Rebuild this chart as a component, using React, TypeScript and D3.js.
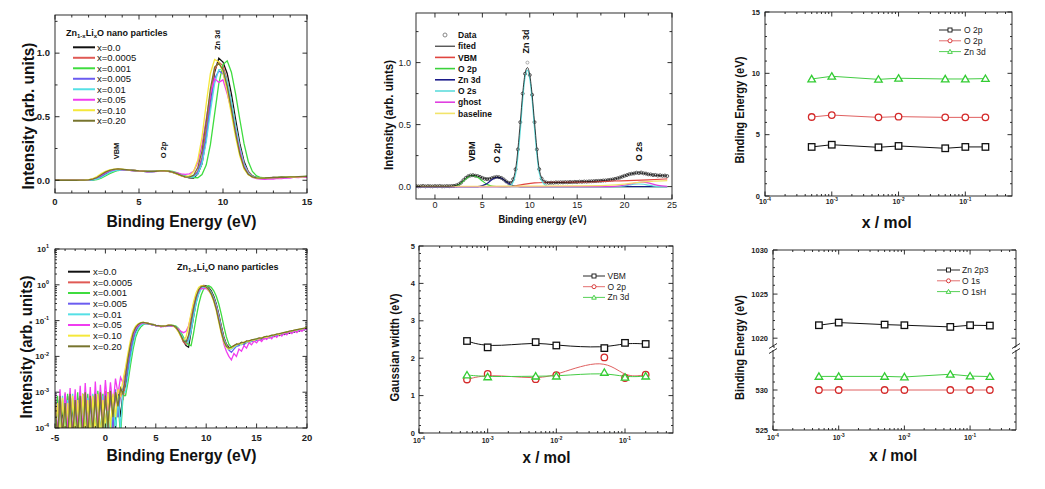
import React from "react";
import * as d3 from "d3";

const FONT = "'Liberation Sans', Arial, Helvetica, sans-serif";

// ---------- Panels (a) & (d): valence-band spectra of Zn1-xLixO ----------
const SPEC_LABELS = ["x=0.0", "x=0.0005", "x=0.001", "x=0.005", "x=0.01", "x=0.05", "x=0.10", "x=0.20"];
const SPEC_COLORS = ["#111111", "#e05a55", "#3fdc3f", "#6b5cf0", "#55e0e6", "#f03cf0", "#f5e83a", "#77742e"];
const LOW_START = -5; // eV (noise floor part), step 0.25
const MAIN_START = 2; // eV, step 0.25
const E_STEP = 0.25;

const lowX0 = [
  0.00005, 0.0006, 0.00005, 0.0004,
  0.00004, 0.0008, 0.00006, 0.0005,
  0.00003, 0.0007, 0.00005, 0.0009,
  0.00004, 0.0005, 0.00006, 0.0008,
  0.00004, 0.0009, 0.00005, 0.0006,
  0.00008, 0.001, 0.00006, 0.0008,
  0.0001, 0.0009, 0.0002, 0.001,
];
const lowX0005 = [
  0.0005, 0.00004, 0.0009, 0.00006,
  0.0006, 0.00005, 0.001, 0.00003,
  0.0005, 0.00007, 0.0008, 0.00005,
  0.0007, 0.00008, 0.0009, 0.00004,
  0.001, 0.00006, 0.0008, 0.00005,
  0.0011, 0.0001, 0.0009, 0.00008,
  0.001, 0.0002, 0.0012, 0.0006,
];
const lowX001 = [
  0.00004, 0.0008, 0.00005, 0.0006,
  0.00006, 0.0009, 0.00003, 0.0007,
  0.00005, 0.001, 0.00004, 0.0006,
  0.00007, 0.0009, 0.00005, 0.0008,
  0.00006, 0.0011, 0.00004, 0.0009,
  0.00008, 0.001, 0.00005, 0.0007,
  0.0001, 0.0006, 0.00006, 0.0008,
];
const lowX005 = [
  0.001, 0.00005, 0.0006, 0.00004,
  0.0009, 0.00006, 0.0005, 0.00005,
  0.0008, 0.00003, 0.001, 0.00006,
  0.0009, 0.00004, 0.0006, 0.00007,
  0.001, 0.00005, 0.0008, 0.00006,
  0.0009, 0.00008, 0.0011, 0.0001,
  0.0012, 0.0002, 0.0009, 0.0013,
];
const lowX01 = [
  0.00005, 0.0005, 0.00004, 0.0008,
  0.00006, 0.0006, 0.00005, 0.0009,
  0.00004, 0.0005, 0.00006, 0.0008,
  0.00005, 0.0007, 0.00004, 0.0009,
  0.00006, 0.0006, 0.00005, 0.0008,
  0.00007, 0.0009, 0.00006, 0.0006,
  0.00008, 0.0008, 0.0001, 0.001,
];
const lowX05 = [
  0.0009, 0.00006, 0.0012, 0.00005,
  0.001, 0.0001, 0.0013, 0.00006,
  0.0012, 0.0001, 0.0015, 0.00008,
  0.0018, 0.0001, 0.0014, 0.00007,
  0.002, 0.0001, 0.0016, 0.0002,
  0.0022, 0.0003, 0.0019, 0.0004,
  0.0024, 0.0009, 0.0026, 0.0018,
];
const lowX10 = [
  0.00004, 0.0005, 0.00005, 0.0007,
  0.00004, 0.0005, 0.00006, 0.0008,
  0.00005, 0.0006, 0.00004, 0.0009,
  0.00006, 0.0006, 0.00005, 0.0008,
  0.00006, 0.0009, 0.00005, 0.0006,
  0.0001, 0.001, 0.0001, 0.0009,
  0.0002, 0.0012, 0.0008, 0.0022,
];
const lowX20 = [
  0.0006, 0.00005, 0.0008, 0.00006,
  0.0005, 0.00004, 0.0009, 0.00005,
  0.0006, 0.00006, 0.0008, 0.00004,
  0.001, 0.00005, 0.0008, 0.00007,
  0.0009, 0.00006, 0.001, 0.00008,
  0.0008, 0.0001, 0.0011, 0.0002,
  0.001, 0.0004, 0.0013, 0.0009,
];

// rows: 2, 3, 4, ... 19 eV (x.00, x.25, x.50, x.75), last value at 20 eV
const mainX0 = [
  0.0015, 0.004, 0.011, 0.028,
  0.05, 0.068, 0.08, 0.086,
  0.085, 0.082, 0.079, 0.076,
  0.073, 0.071, 0.069, 0.069,
  0.071, 0.073, 0.074, 0.071,
  0.064, 0.052, 0.038, 0.026,
  0.02, 0.018, 0.05, 0.13,
  0.33, 0.6, 0.85, 0.96,
  0.93, 0.84, 0.68, 0.48,
  0.29, 0.15, 0.07, 0.035,
  0.022, 0.018, 0.017, 0.019,
  0.022, 0.021, 0.024, 0.023,
  0.026, 0.025, 0.028, 0.027,
  0.03, 0.029, 0.033, 0.031,
  0.035, 0.033, 0.037, 0.036,
  0.04, 0.038, 0.043, 0.041,
  0.046, 0.044, 0.05, 0.048,
  0.053, 0.051, 0.057, 0.055,
  0.062,
];
const mainX0005 = [
  0.002, 0.006, 0.016, 0.035,
  0.056, 0.072, 0.082, 0.087,
  0.084, 0.083, 0.078, 0.077,
  0.072, 0.072, 0.068, 0.07,
  0.07, 0.074, 0.073, 0.072,
  0.062, 0.05, 0.036, 0.025,
  0.022, 0.03, 0.07, 0.18,
  0.4, 0.66, 0.87, 0.93,
  0.9, 0.79, 0.62, 0.43,
  0.26, 0.13, 0.065, 0.033,
  0.021, 0.017, 0.018, 0.02,
  0.021, 0.023, 0.022, 0.025,
  0.024, 0.027, 0.026, 0.029,
  0.028, 0.032, 0.03, 0.034,
  0.033, 0.036, 0.035, 0.039,
  0.038, 0.042, 0.04, 0.045,
  0.043, 0.048, 0.047, 0.052,
  0.05, 0.055, 0.054, 0.059,
  0.06,
];
const mainX001 = [
  0.0008, 0.002, 0.006, 0.016,
  0.034, 0.052, 0.066, 0.077,
  0.082, 0.083, 0.08, 0.078,
  0.074, 0.072, 0.07, 0.069,
  0.07, 0.072, 0.074, 0.074,
  0.07, 0.06, 0.047, 0.034,
  0.025, 0.021, 0.02, 0.045,
  0.12, 0.28, 0.52, 0.76,
  0.91, 0.94, 0.85, 0.68,
  0.48, 0.29, 0.15, 0.07,
  0.035, 0.022, 0.018, 0.019,
  0.021, 0.022, 0.024, 0.023,
  0.026, 0.026, 0.028, 0.029,
  0.031, 0.03, 0.033, 0.034,
  0.036, 0.035, 0.038, 0.039,
  0.041, 0.04, 0.044, 0.045,
  0.048, 0.047, 0.051, 0.052,
  0.055, 0.054, 0.058, 0.06,
  0.064,
];
const mainX005 = [
  0.002, 0.005, 0.014, 0.032,
  0.054, 0.07, 0.08, 0.085,
  0.083, 0.081, 0.079, 0.075,
  0.073, 0.07, 0.069, 0.068,
  0.07, 0.072, 0.073, 0.07,
  0.063, 0.052, 0.04, 0.03,
  0.025, 0.03, 0.065, 0.16,
  0.35, 0.6, 0.8, 0.86,
  0.84, 0.74, 0.58, 0.4,
  0.24, 0.12, 0.055, 0.03,
  0.019, 0.015, 0.013, 0.016,
  0.019, 0.02, 0.023, 0.021,
  0.025, 0.024, 0.027, 0.026,
  0.029, 0.03, 0.031, 0.033,
  0.032, 0.036, 0.035, 0.038,
  0.039, 0.041, 0.043, 0.042,
  0.047, 0.046, 0.05, 0.049,
  0.054, 0.053, 0.057, 0.056,
  0.061,
];
const mainX01 = [
  0.001, 0.003, 0.009, 0.022,
  0.042, 0.06, 0.073, 0.081,
  0.083, 0.081, 0.079, 0.076,
  0.073, 0.071, 0.069, 0.069,
  0.07, 0.072, 0.073, 0.072,
  0.066, 0.055, 0.042, 0.03,
  0.024, 0.026, 0.05, 0.13,
  0.3, 0.54, 0.76, 0.87,
  0.87, 0.78, 0.62, 0.43,
  0.26, 0.13, 0.06, 0.03,
  0.02, 0.016, 0.016, 0.018,
  0.02, 0.022, 0.021, 0.024,
  0.025, 0.025, 0.027, 0.028,
  0.03, 0.031, 0.032, 0.033,
  0.035, 0.034, 0.037, 0.038,
  0.04, 0.041, 0.043, 0.044,
  0.046, 0.048, 0.049, 0.051,
  0.053, 0.055, 0.056, 0.058,
  0.06,
];
const mainX05 = [
  0.004, 0.01, 0.022, 0.04,
  0.06, 0.074, 0.081, 0.088,
  0.083, 0.084, 0.077, 0.078,
  0.071, 0.073, 0.066, 0.07,
  0.068, 0.074, 0.07, 0.071,
  0.064, 0.058, 0.05, 0.046,
  0.05, 0.07, 0.14, 0.28,
  0.48, 0.68, 0.8, 0.77,
  0.79, 0.68, 0.55, 0.38,
  0.23, 0.11, 0.05, 0.022,
  0.014, 0.01, 0.008, 0.012,
  0.01, 0.016, 0.014, 0.02,
  0.017, 0.024, 0.021, 0.027,
  0.024, 0.03, 0.026, 0.033,
  0.03, 0.036, 0.031, 0.039,
  0.034, 0.042, 0.037, 0.045,
  0.04, 0.049, 0.043, 0.052,
  0.046, 0.056, 0.05, 0.06,
  0.055,
];
const mainX10 = [
  0.005, 0.013, 0.03, 0.052,
  0.07, 0.082, 0.088, 0.09,
  0.087, 0.084, 0.08, 0.077,
  0.074, 0.072, 0.07, 0.07,
  0.072, 0.075, 0.075, 0.071,
  0.062, 0.048, 0.035, 0.028,
  0.035, 0.07, 0.16, 0.34,
  0.6, 0.84, 0.95, 0.93,
  0.85, 0.7, 0.52, 0.34,
  0.19, 0.09, 0.043, 0.025,
  0.018, 0.016, 0.017, 0.019,
  0.021, 0.023, 0.022, 0.025,
  0.026, 0.026, 0.029, 0.028,
  0.031, 0.031, 0.033, 0.035,
  0.034, 0.037, 0.038, 0.039,
  0.042, 0.041, 0.045, 0.046,
  0.048, 0.05, 0.051, 0.054,
  0.055, 0.058, 0.059, 0.062,
  0.066,
];
const mainX20 = [
  0.003, 0.009, 0.022, 0.044,
  0.064, 0.078, 0.086, 0.089,
  0.086, 0.083, 0.08, 0.077,
  0.074, 0.072, 0.07, 0.07,
  0.071, 0.074, 0.074, 0.072,
  0.065, 0.052, 0.038, 0.027,
  0.025, 0.04, 0.1, 0.23,
  0.46, 0.72, 0.89, 0.92,
  0.87, 0.74, 0.56, 0.37,
  0.21, 0.1, 0.048, 0.027,
  0.019, 0.017, 0.018, 0.02,
  0.022, 0.022, 0.025, 0.024,
  0.027, 0.027, 0.029, 0.03,
  0.031, 0.033, 0.032, 0.035,
  0.036, 0.037, 0.039, 0.04,
  0.042, 0.043, 0.045, 0.047,
  0.048, 0.051, 0.052, 0.054,
  0.056, 0.058, 0.06, 0.062,
  0.065,
];
const SPEC_LOW = [lowX0, lowX0005, lowX001, lowX005, lowX01, lowX05, lowX10, lowX20];
const SPEC_MAIN = [mainX0, mainX0005, mainX001, mainX005, mainX01, mainX05, mainX10, mainX20];

// ---------- Panel (b): fit of one spectrum ----------
const FIT_DATA_START = -2; // step 0.25
const fitData = [
  0.004, 0.002, 0.003, 0.005,
  0.002, 0.004, 0.003, 0.002,
  0.004, 0.003, 0.005, 0.002,
  0.003, 0.004, 0.003, 0.005,
  0.006, 0.01, 0.018, 0.032,
  0.052, 0.07, 0.083, 0.09,
  0.092, 0.088, 0.085, 0.078,
  0.07, 0.063, 0.06, 0.062,
  0.068, 0.074, 0.078, 0.076,
  0.07, 0.058, 0.042, 0.03,
  0.03, 0.06, 0.14, 0.3,
  0.52, 0.75, 0.91, 1.0,
  0.9, 0.74, 0.52, 0.3,
  0.14, 0.065, 0.04, 0.033,
  0.03, 0.032, 0.031, 0.034,
  0.033, 0.035, 0.034, 0.036,
  0.035, 0.037, 0.036, 0.038,
  0.037, 0.04, 0.039, 0.041,
  0.04, 0.042, 0.043, 0.044,
  0.045, 0.046, 0.047, 0.049,
  0.05, 0.052, 0.055, 0.058,
  0.062, 0.067, 0.073, 0.08,
  0.087, 0.093, 0.1, 0.104,
  0.106, 0.112, 0.109, 0.113,
  0.107, 0.105, 0.099, 0.098,
  0.093, 0.094, 0.089, 0.091,
  0.087, 0.089, 0.085,
];
const fitTotal: [number, number][] = [
  [-2, 0.003], [1.5, 0.003], [2, 0.006], [2.5, 0.018], [3, 0.052], [3.5, 0.083], [4, 0.091], [4.5, 0.084],
  [5, 0.07], [5.5, 0.061], [6, 0.068], [6.5, 0.077], [7, 0.069], [7.5, 0.043], [8, 0.03], [8.5, 0.14],
  [9, 0.52], [9.25, 0.75], [9.5, 0.91], [9.75, 0.96], [10, 0.9], [10.25, 0.74], [10.5, 0.52], [11, 0.14],
  [11.5, 0.04], [12, 0.031], [13, 0.033], [14, 0.035], [15, 0.038], [16, 0.04], [17, 0.045], [18, 0.05],
  [18.5, 0.055], [19, 0.062], [19.5, 0.073], [20, 0.087], [20.5, 0.1], [21, 0.107], [21.5, 0.111],
  [22, 0.107], [22.5, 0.1], [23, 0.093], [23.5, 0.09], [24, 0.088], [24.5, 0.086],
];
const compVBM: [number, number][] = [
  [-2, 0], [7.5, 0], [8.5, 0.006], [9.5, 0.02], [10.5, 0.03], [11.5, 0.033], [13, 0.034], [15, 0.036],
  [17, 0.04], [19, 0.045], [21, 0.05], [22.5, 0.055], [24.5, 0.062],
];
const compO2p: [number, number][] = [
  [-2, 0], [1.5, 0], [2, 0.003], [2.5, 0.015], [3, 0.045], [3.5, 0.078], [3.9, 0.09], [4.5, 0.075],
  [5, 0.045], [5.5, 0.018], [6, 0.005], [6.5, 0.001], [7, 0], [24.5, 0],
];
const compZn3d: [number, number][] = [
  [-2, 0], [4.5, 0], [5, 0.008], [5.5, 0.025], [6, 0.055], [6.5, 0.075], [7, 0.068], [7.5, 0.04],
  [8, 0.014], [8.5, 0.003], [9, 0], [24.5, 0],
];
const compO2s: [number, number][] = [
  [-2, 0], [7.5, 0], [8, 0.01], [8.5, 0.1], [9, 0.45], [9.25, 0.7], [9.5, 0.88], [9.75, 0.94], [10, 0.87],
  [10.25, 0.7], [10.5, 0.47], [10.75, 0.26], [11, 0.11], [11.5, 0.02], [12, 0], [19, 0], [20, 0.006],
  [20.5, 0.013], [21, 0.019], [21.5, 0.021], [22, 0.019], [22.5, 0.012], [23, 0.005], [23.5, 0], [24.5, 0],
];
const compGhost: [number, number][] = [
  [-2, 0], [18.5, 0], [19.5, 0.006], [20.5, 0.02], [21.5, 0.034], [22, 0.036], [22.5, 0.03],
  [23.5, 0.01], [24.5, 0.002],
];
const compBaseline: [number, number][] = [
  [-2, 0.003], [5, 0.003], [10, 0.004], [15, 0.006], [18, 0.01], [20, 0.02], [21, 0.03], [22, 0.038],
  [23, 0.043], [24.5, 0.048],
];
const FIT_LABELS = ["Data", "fited", "VBM", "O  2p", "Zn 3d", "O  2s", "ghost", "baseline"];
const FIT_COLORS = ["#8a8a8a", "#111111", "#e0453f", "#3cd23c", "#1c1c8a", "#5fdcdc", "#e040e0", "#f2e46a"];

// ---------- Panels (c), (e), (f): vs. Li content ----------
const molX = [0.0005, 0.001, 0.005, 0.01, 0.05, 0.1, 0.2];
const peakO2pA = [4.0, 4.18, 3.97, 4.08, 3.89, 4.0, 4.0];
const peakO2pB = [6.44, 6.6, 6.41, 6.47, 6.41, 6.41, 6.41];
const peakZn3d = [9.54, 9.76, 9.51, 9.6, 9.54, 9.54, 9.57];
const widthVBM = [2.46, 2.29, 2.43, 2.34, 2.27, 2.41, 2.38];
const widthO2p = [1.43, 1.58, 1.44, 1.55, 2.02, 1.47, 1.56];
const widthZn3d = [1.55, 1.5, 1.52, 1.52, 1.62, 1.49, 1.52];
const coreZn2p3 = [1021.47, 1021.77, 1021.54, 1021.47, 1021.28, 1021.47, 1021.43];
const coreO1s = [530.0, 530.0, 530.0, 530.0, 530.0, 530.0, 530.0];
const coreO1sH = [531.7, 531.7, 531.7, 531.63, 531.97, 531.74, 531.68];

// ---------- helpers ----------
type Seg = [number, number, number, number];

function logTicks(lo: number, hi: number) {
  const major: number[] = [];
  const minor: number[] = [];
  for (let e = Math.floor(Math.log10(lo)); e <= Math.ceil(Math.log10(hi)); e++) {
    const b = Math.pow(10, e);
    if (b >= lo * 0.999 && b <= hi * 1.001) major.push(b);
    for (let k = 2; k < 10; k++) {
      const v = k * b;
      if (v > lo * 1.001 && v < hi * 0.999) minor.push(v);
    }
  }
  return { major, minor };
}

function stepTicks(lo: number, hi: number, step: number, skip: number[] = []) {
  const out: number[] = [];
  for (let v = Math.ceil(lo / step - 1e-9) * step; v <= hi + 1e-9; v += step) {
    const r = Math.round(v * 1000) / 1000;
    if (!skip.some((s) => Math.abs(s - r) < 1e-6)) out.push(r);
  }
  return out;
}

function Frame(props: {
  x: (v: number) => number; y: (v: number) => number;
  L: number; R: number; T: number; B: number;
  xMaj: number[]; xMin: number[]; yMaj: number[]; yMin: number[];
  maj?: number; min?: number; noRect?: boolean;
}) {
  const { x, y, L, R, T, B } = props;
  const M = props.maj ?? 4.5;
  const m = props.min ?? 2.5;
  const segs: Seg[] = [];
  props.xMaj.forEach((v) => { const X = x(v); segs.push([X, B, X, B - M], [X, T, X, T + M]); });
  props.xMin.forEach((v) => { const X = x(v); segs.push([X, B, X, B - m], [X, T, X, T + m]); });
  props.yMaj.forEach((v) => { const Y = y(v); segs.push([L, Y, L + M, Y], [R, Y, R - M, Y]); });
  props.yMin.forEach((v) => { const Y = y(v); segs.push([L, Y, L + m, Y], [R, Y, R - m, Y]); });
  return (
    <g stroke="#1a1a1a" strokeWidth={0.9} fill="none">
      {!props.noRect && <rect x={L} y={T} width={R - L} height={B - T} />}
      {segs.map((s, i) => <line key={i} x1={s[0]} y1={s[1]} x2={s[2]} y2={s[3]} />)}
    </g>
  );
}

function Pow(p: { x: number; y: number; e: number; fs: number; anchor: string; bold?: boolean }) {
  return (
    <text x={p.x} y={p.y} fontSize={p.fs} textAnchor={p.anchor as any} fontWeight={p.bold ? "bold" : "normal"} fill="#222">
      10<tspan dy={-p.fs * 0.45} fontSize={p.fs * 0.68}>{p.e}</tspan>
    </text>
  );
}

function VText(p: { bx: number; cy: number; fs: number; len?: number; children: React.ReactNode; bold?: boolean }) {
  return (
    <text transform={`translate(${p.bx},${p.cy}) rotate(-90)`} textAnchor="middle" fontSize={p.fs}
      fontWeight={p.bold === false ? "normal" : "bold"} fill="#111"
      textLength={p.len} lengthAdjust={p.len ? "spacingAndGlyphs" : undefined}>
      {p.children}
    </text>
  );
}

function HText(p: { cx: number; y: number; fs: number; len?: number; children: React.ReactNode }) {
  return (
    <text x={p.cx} y={p.y} textAnchor="middle" fontSize={p.fs} fontWeight="bold" fill="#111"
      textLength={p.len} lengthAdjust={p.len ? "spacingAndGlyphs" : undefined}>
      {p.children}
    </text>
  );
}

function Marker(p: { shape: string; x: number; y: number; s: number; color: string; sw?: number }) {
  const { x, y, s, color } = p;
  const sw = p.sw ?? 1.3;
  if (p.shape === "square")
    return <rect x={x - s / 2} y={y - s / 2} width={s} height={s} fill="#fff" stroke={color} strokeWidth={sw} />;
  if (p.shape === "circle")
    return <circle cx={x} cy={y} r={s / 2} fill="#fff" stroke={color} strokeWidth={sw} />;
  const h = s * 0.55;
  return (
    <path d={`M${x},${y - h} L${x + s * 0.58},${y + h * 0.8} L${x - s * 0.58},${y + h * 0.8} Z`}
      fill="#fff" stroke={color} strokeWidth={sw} />
  );
}

function Title(p: { x: number; y: number }) {
  return (
    <text x={p.x} y={p.y} fontSize={9} fontWeight="bold" fill="#111">
      Zn<tspan dy={2} fontSize={6}>1-x</tspan><tspan dy={-2}>Li</tspan><tspan dy={2} fontSize={6}>x</tspan>
      <tspan dy={-2}>O nano particles</tspan>
    </text>
  );
}

const spectra: [number, number][][] = SPEC_LOW.map((low, k) => [
  ...low.map((v, i) => [LOW_START + i * E_STEP, v] as [number, number]),
  ...SPEC_MAIN[k].map((v, i) => [MAIN_START + i * E_STEP, v] as [number, number]),
]);

// ---------- panels ----------
function PanelA() {
  const L = 55, R = 307, T = 15, B = 193;
  const x = d3.scaleLinear().domain([0, 15]).range([L, R]);
  const y = d3.scaleLinear().domain([-0.1, 1.3]).range([B, T]);
  const line = d3.line<[number, number]>().x((d) => x(d[0])).y((d) => y(d[1]));
  return (
    <g>
      <clipPath id="clipA"><rect x={L} y={T} width={R - L} height={B - T} /></clipPath>
      <g clipPath="url(#clipA)" fill="none">
        {spectra.map((s, k) => (
          <path key={k} d={line(s.filter((d) => d[0] >= -0.5)) || ""} stroke={SPEC_COLORS[k]} strokeWidth={1.3} />
        ))}
      </g>
      <Frame x={x} y={y} L={L} R={R} T={T} B={B} xMaj={[0, 5, 10, 15]} xMin={stepTicks(0, 15, 1, [0, 5, 10, 15])}
        yMaj={[0, 0.5, 1.0]} yMin={[0.25, 0.75, 1.25]} />
      {[0, 5, 10, 15].map((v) => (
        <text key={v} x={x(v)} y={205} fontSize={9.5} fontWeight="bold" textAnchor="middle" fill="#222">{v}</text>
      ))}
      {[0, 0.5, 1.0].map((v) => (
        <text key={v} x={50} y={y(v) + 3.3} fontSize={9.5} fontWeight="bold" textAnchor="end" fill="#222">{v.toFixed(1)}</text>
      ))}
      <Title x={66} y={36} />
      {SPEC_LABELS.map((lab, i) => {
        const yy = 47.3 + i * 10.49;
        return (
          <g key={lab}>
            <line x1={73} x2={95} y1={yy} y2={yy} stroke={SPEC_COLORS[i]} strokeWidth={2} />
            <text x={97} y={yy + 3.4} fontSize={9.5} fill="#111">{lab}</text>
          </g>
        );
      })}
      <VText bx={219.5} cy={40} fs={7.5}>Zn 3d</VText>
      <VText bx={119} cy={151} fs={7.5}>VBM</VText>
      <VText bx={165.5} cy={150} fs={7.5}>O 2p</VText>
      <HText cx={181.5} y={227} fs={17} len={150}>Binding Energy (eV)</HText>
      <VText bx={34} cy={116} fs={17} len={147}>Intensity (arb. units)</VText>
    </g>
  );
}

function PanelD() {
  const L = 55, R = 307, T = 249, B = 428;
  const x = d3.scaleLinear().domain([-5, 20]).range([L, R]);
  const y = d3.scaleLog().domain([1e-4, 10]).range([B, T]);
  const line = d3.line<[number, number]>().x((d) => x(d[0])).y((d) => y(Math.max(d[1], 1e-6)));
  const lt = logTicks(1e-4, 10);
  return (
    <g>
      <clipPath id="clipD"><rect x={L} y={T} width={R - L} height={B - T} /></clipPath>
      <g clipPath="url(#clipD)" fill="none">
        {spectra.map((s, k) => (
          <path key={k} d={line(s) || ""} stroke={SPEC_COLORS[k]} strokeWidth={1.3} />
        ))}
      </g>
      <Frame x={x} y={y} L={L} R={R} T={T} B={B} xMaj={[-5, 0, 5, 10, 15, 20]}
        xMin={stepTicks(-5, 20, 1, [-5, 0, 5, 10, 15, 20])} yMaj={lt.major} yMin={lt.minor} min={2} />
      {[-5, 0, 5, 10, 15, 20].map((v) => (
        <text key={v} x={x(v)} y={441} fontSize={9.5} fontWeight="bold" textAnchor="middle" fill="#222">{v}</text>
      ))}
      {lt.major.map((v) => (
        <Pow key={v} x={49} y={y(v) + 3} e={Math.round(Math.log10(v))} fs={8} anchor="end" bold />
      ))}
      <Title x={177} y={270} />
      {SPEC_LABELS.map((lab, i) => {
        const yy = 271.7 + i * 10.66;
        return (
          <g key={lab}>
            <line x1={68} x2={90} y1={yy} y2={yy} stroke={SPEC_COLORS[i]} strokeWidth={2} />
            <text x={93} y={yy + 3.4} fontSize={9.5} fill="#111">{lab}</text>
          </g>
        );
      })}
      <HText cx={181.5} y={461} fs={17} len={150}>Binding Energy (eV)</HText>
      <VText bx={32} cy={347} fs={17} len={143}>Intensity (arb. units)</VText>
    </g>
  );
}

function PanelB() {
  const L = 416, R = 672, T = 13, B = 199;
  const x = d3.scaleLinear().domain([-2, 25]).range([L, R]);
  const y = d3.scaleLinear().domain([-0.1, 1.4]).range([B, T]);
  const smooth = d3.line<[number, number]>().x((d) => x(d[0])).y((d) => y(d[1])).curve(d3.curveMonotoneX);
  const pts = fitData.map((v, i) => [FIT_DATA_START + i * 0.25, v] as [number, number]);
  const comps = [compVBM, compO2p, compZn3d, compO2s, compGhost, compBaseline];
  return (
    <g>
      <clipPath id="clipB"><rect x={L} y={T} width={R - L} height={B - T} /></clipPath>
      <g clipPath="url(#clipB)">
        {pts.map((d, i) => (
          <circle key={i} cx={x(d[0])} cy={y(d[1])} r={1.5} fill="none"
            stroke={d[1] > 0.97 ? "#999" : "#333"} strokeWidth={0.8} />
        ))}
        {comps.map((c, i) => (
          <path key={i} d={smooth(c) || ""} fill="none" stroke={FIT_COLORS[i + 2]} strokeWidth={1.2} />
        ))}
        <path d={smooth(fitTotal) || ""} fill="none" stroke="#111" strokeWidth={0.8} />
      </g>
      <Frame x={x} y={y} L={L} R={R} T={T} B={B} xMaj={[0, 5, 10, 15, 20, 25]}
        xMin={[2.5, 7.5, 12.5, 17.5, 22.5]} yMaj={[0, 0.5, 1.0]} yMin={[0.25, 0.75, 1.25]} />
      {[0, 5, 10, 15, 20, 25].map((v) => (
        <text key={v} x={x(v)} y={208} fontSize={9} textAnchor="middle" fill="#222">{v}</text>
      ))}
      {[0, 0.5, 1.0].map((v) => (
        <text key={v} x={411} y={y(v) + 3.2} fontSize={9} textAnchor="end" fill="#222">{v.toFixed(1)}</text>
      ))}
      {FIT_LABELS.map((lab, i) => {
        const yy = 35 + i * 11.2;
        return (
          <g key={lab}>
            {i === 0 ? (
              <circle cx={445} cy={yy} r={2} fill="none" stroke="#888" strokeWidth={1} />
            ) : (
              <line x1={435} x2={455} y1={yy} y2={yy} stroke={FIT_COLORS[i]} strokeWidth={i === 1 ? 1 : 1.6} />
            )}
            <text x={458} y={yy + 3.2} fontSize={8.5} fontWeight="bold" fill="#111">{lab}</text>
          </g>
        );
      })}
      <VText bx={529} cy={41.5} fs={9}>Zn 3d</VText>
      <VText bx={475} cy={151.5} fs={9}>VBM</VText>
      <VText bx={499.5} cy={153} fs={9}>O 2p</VText>
      <VText bx={641.5} cy={151.5} fs={9}>O 2s</VText>
      <HText cx={542.5} y={222.5} fs={10.5} len={88}>Binding energy (eV)</HText>
      <VText bx={393} cy={115} fs={13.5} len={110}>Intensity (arb. uints)</VText>
    </g>
  );
}

function SeriesLegend(p: { x1: number; x2: number; tx: number; y0: number; dy: number;
  items: { label: string; color: string; lineColor: string; shape: string }[] }) {
  return (
    <g>
      {p.items.map((it, i) => {
        const yy = p.y0 + i * p.dy;
        const mx = (p.x1 + p.x2) / 2;
        return (
          <g key={i}>
            <line x1={p.x1} x2={p.x2} y1={yy} y2={yy} stroke={it.lineColor} strokeWidth={0.9} />
            <Marker shape={it.shape} x={mx} y={yy} s={4} color={it.color} sw={0.9} />
            <text x={p.tx} y={yy + 3} fontSize={8.5} fill="#222">{it.label}</text>
          </g>
        );
      })}
    </g>
  );
}

function LogXLabels(p: { x: (v: number) => number; y: number; fs: number }) {
  return (
    <g>
      {[1e-4, 1e-3, 1e-2, 1e-1].map((v) => (
        <Pow key={v} x={p.x(v)} y={p.y} e={Math.round(Math.log10(v))} fs={p.fs} anchor="middle" bold />
      ))}
    </g>
  );
}

const BLACK = "#111111";
const RED_M = "#d42a2a";
const RED_L = "#e06060";
const GREEN_M = "#33cc33";
const GREEN_L = "#44cc44";

function PanelC() {
  const L = 765, R = 1012, T = 12, B = 196;
  const x = d3.scaleLog().domain([1e-4, 0.5]).range([L, R]);
  const y = d3.scaleLinear().domain([0, 15]).range([B, T]);
  const line = d3.line<number>().x((_, i) => x(molX[i])).y((d) => y(d));
  const lt = logTicks(1e-4, 0.5);
  const series = [
    { v: peakO2pA, c: BLACK, lc: BLACK, s: "square" },
    { v: peakO2pB, c: RED_M, lc: RED_L, s: "circle" },
    { v: peakZn3d, c: GREEN_M, lc: GREEN_L, s: "triangle" },
  ];
  return (
    <g>
      {series.map((sr, k) => (
        <g key={k}>
          <path d={line(sr.v) || ""} fill="none" stroke={sr.lc} strokeWidth={1} />
          {sr.v.map((v, i) => <Marker key={i} shape={sr.s} x={x(molX[i])} y={y(v)} s={6.5} color={sr.c} />)}
        </g>
      ))}
      <Frame x={x} y={y} L={L} R={R} T={T} B={B} xMaj={lt.major} xMin={lt.minor}
        yMaj={[0, 5, 10, 15]} yMin={stepTicks(0, 15, 1, [0, 5, 10, 15])} min={2} />
      {[0, 5, 10, 15].map((v) => (
        <text key={v} x={760} y={y(v) + 2.6} fontSize={7.5} fontWeight="bold" textAnchor="end" fill="#222">{v}</text>
      ))}
      <LogXLabels x={x} y={204} fs={7} />
      <SeriesLegend x1={939} x2={961} tx={964} y0={30} dy={10.8} items={[
        { label: "O 2p", color: BLACK, lineColor: BLACK, shape: "square" },
        { label: "O 2p", color: RED_M, lineColor: RED_L, shape: "circle" },
        { label: "Zn 3d", color: GREEN_M, lineColor: GREEN_L, shape: "triangle" },
      ]} />
      <HText cx={886.7} y={228} fs={17} len={50}>x / mol</HText>
      <VText bx={744} cy={110} fs={12.5} len={107}>Binding Energy (eV)</VText>
    </g>
  );
}

function PanelE() {
  const L = 419, R = 673, T = 246, B = 433;
  const x = d3.scaleLog().domain([1e-4, 0.5]).range([L, R]);
  const y = d3.scaleLinear().domain([0, 5]).range([B, T]);
  const line = d3.line<number>().x((_, i) => x(molX[i])).y((d) => y(d)).curve(d3.curveBasis);
  const lt = logTicks(1e-4, 0.5);
  const series = [
    { v: widthVBM, c: BLACK, lc: BLACK, s: "square" },
    { v: widthO2p, c: RED_M, lc: RED_L, s: "circle" },
    { v: widthZn3d, c: GREEN_M, lc: GREEN_L, s: "triangle" },
  ];
  return (
    <g>
      {series.map((sr, k) => (
        <g key={k}>
          <path d={line(sr.v) || ""} fill="none" stroke={sr.lc} strokeWidth={1} />
          {sr.v.map((v, i) => <Marker key={i} shape={sr.s} x={x(molX[i])} y={y(v)} s={6.5} color={sr.c} />)}
        </g>
      ))}
      <Frame x={x} y={y} L={L} R={R} T={T} B={B} xMaj={lt.major} xMin={lt.minor}
        yMaj={[0, 1, 2, 3, 4, 5]} yMin={stepTicks(0, 5, 0.2, [0, 1, 2, 3, 4, 5])} min={2} />
      {[0, 1, 2, 3, 4, 5].map((v) => (
        <text key={v} x={415} y={y(v) + 2.6} fontSize={7.5} fontWeight="bold" textAnchor="end" fill="#222">{v}</text>
      ))}
      <LogXLabels x={x} y={443} fs={7} />
      <SeriesLegend x1={583} x2={605} tx={607.5} y0={276} dy={10.7} items={[
        { label: "VBM", color: BLACK, lineColor: BLACK, shape: "square" },
        { label: "O 2p", color: RED_M, lineColor: RED_L, shape: "circle" },
        { label: "Zn 3d", color: GREEN_M, lineColor: GREEN_L, shape: "triangle" },
      ]} />
      <HText cx={546.5} y={463} fs={17} len={48}>x / mol</HText>
      <VText bx={399} cy={347.5} fs={12.5} len={108}>Gaussian width (eV)</VText>
    </g>
  );
}

function PanelF() {
  const L = 773, R = 1016, T = 250, B = 430;
  const BRK_HI = 347, BRK_LO = 350;
  const x = d3.scaleLog().domain([1e-4, 0.5]).range([L, R]);
  const yLo = d3.scaleLinear().domain([525, 535]).range([B, BRK_LO]);
  const yHi = d3.scaleLinear().domain([1019, 1030]).range([BRK_HI, T]);
  const y = (v: number) => (v > 800 ? yHi(v) : yLo(v));
  const line = d3.line<number>().x((_, i) => x(molX[i])).y((d) => y(d));
  const lt = logTicks(1e-4, 0.5);
  const series = [
    { v: coreZn2p3, c: BLACK, lc: BLACK, s: "square" },
    { v: coreO1s, c: RED_M, lc: RED_L, s: "circle" },
    { v: coreO1sH, c: GREEN_M, lc: GREEN_L, s: "triangle" },
  ];
  const yMaj = [525, 530, 1020, 1025, 1030];
  const yMin = [...stepTicks(525, 534, 1, [525, 530]), ...stepTicks(1019, 1030, 1, [1020, 1025, 1030])];
  return (
    <g>
      {series.map((sr, k) => (
        <g key={k}>
          <path d={line(sr.v) || ""} fill="none" stroke={sr.lc} strokeWidth={1} />
          {sr.v.map((v, i) => <Marker key={i} shape={sr.s} x={x(molX[i])} y={y(v)} s={6.5} color={sr.c} />)}
        </g>
      ))}
      <Frame x={x} y={y} L={L} R={R} T={T} B={B} xMaj={lt.major} xMin={lt.minor}
        yMaj={yMaj} yMin={yMin} min={2} noRect />
      <g stroke="#1a1a1a" strokeWidth={0.9}>
        <line x1={L} x2={R} y1={T} y2={T} />
        <line x1={L} x2={R} y1={B} y2={B} />
        <line x1={L} x2={L} y1={T} y2={BRK_HI} />
        <line x1={L} x2={L} y1={BRK_LO} y2={B} />
        <line x1={R} x2={R} y1={T} y2={BRK_HI} />
        <line x1={R} x2={R} y1={BRK_LO} y2={B} />
        {[L, R].map((X) => (
          <g key={X}>
            <line x1={X - 4} y1={BRK_HI + 1.5} x2={X + 4} y2={BRK_HI - 3.5} />
            <line x1={X - 4} y1={BRK_LO + 3.5} x2={X + 4} y2={BRK_LO - 1.5} />
          </g>
        ))}
      </g>
      {yMaj.map((v) => (
        <text key={v} x={768} y={y(v) + 2.6} fontSize={7.5} fontWeight="bold" textAnchor="end" fill="#222">{v}</text>
      ))}
      <LogXLabels x={x} y={440} fs={7} />
      <SeriesLegend x1={937} x2={960} tx={962} y0={270} dy={10.8} items={[
        { label: "Zn 2p3", color: BLACK, lineColor: BLACK, shape: "square" },
        { label: "O 1s", color: RED_M, lineColor: RED_L, shape: "circle" },
        { label: "O 1sH", color: GREEN_M, lineColor: GREEN_L, shape: "triangle" },
      ]} />
      <HText cx={893.3} y={461} fs={17} len={48}>x / mol</HText>
      <VText bx={744} cy={347.5} fs={12.5} len={105}>Binding Energy (eV)</VText>
    </g>
  );
}

export default function App() {
  return (
    <svg width={1045} height={489} viewBox="0 0 1045 489"
      style={{ position: "absolute", left: 0, top: 0, background: "#fff", fontFamily: FONT }}>
      <rect x={0} y={0} width={1045} height={489} fill="#fff" />
      <PanelA />
      <PanelB />
      <PanelC />
      <PanelD />
      <PanelE />
      <PanelF />
    </svg>
  );
}
